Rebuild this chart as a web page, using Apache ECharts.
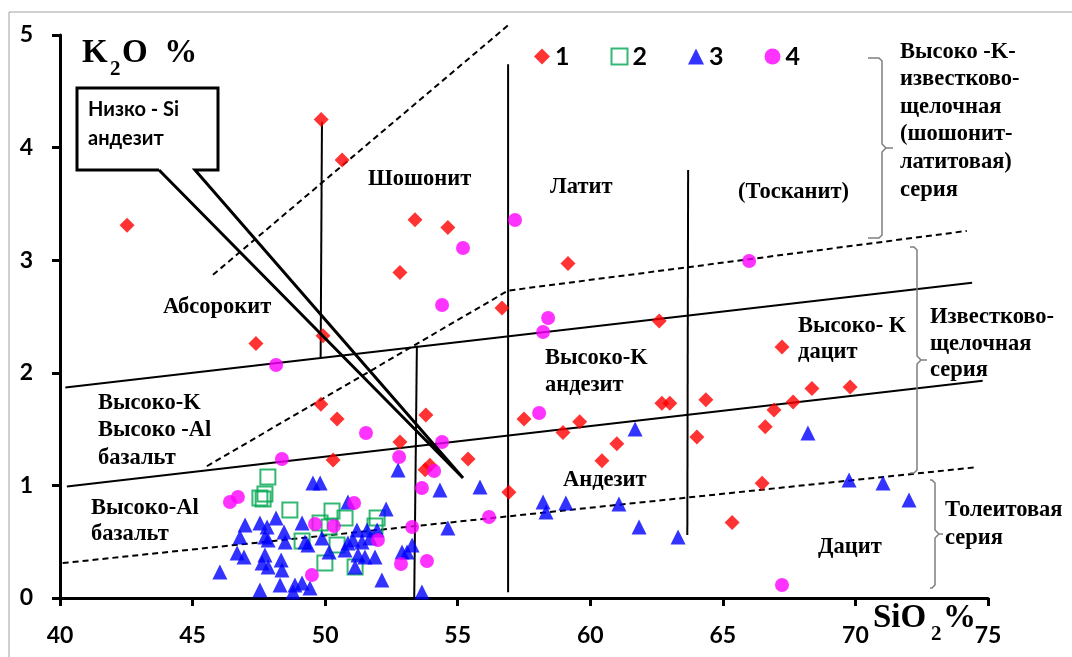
<!DOCTYPE html>
<html>
<head>
<meta charset="utf-8">
<script src="https://cdn.jsdelivr.net/npm/echarts@6/dist/echarts.min.js"></script>
<style>
  html, body { margin: 0; padding: 0; background: #fff; }
  #chart { width: 1072px; height: 657px; }
</style>
</head>
<body>
<div id="chart"></div>
<script>
// группа 1 - красные ромбы (SiO2, K2O)
const group1 = [
  [42.53, 3.31], [49.85, 4.25], [50.64, 3.89], [53.39, 3.36], [54.63, 3.29],
  [52.82, 2.89], [56.67, 2.575], [47.39, 2.26], [49.92, 2.33], [49.84, 1.72],
  [50.45, 1.59], [53.8, 1.625], [52.82, 1.385], [50.3, 1.225], [55.39, 1.235],
  [53.77, 1.14], [53.95, 1.18], [56.93, 0.94], [60.44, 1.22], [61.0, 1.37],
  [59.16, 2.97], [62.6, 2.46], [62.7, 1.73], [63.0, 1.73], [64.36, 1.76],
  [57.5, 1.59], [59.6, 1.565], [58.97, 1.47], [67.23, 2.23], [68.36, 1.86],
  [69.8, 1.875], [67.65, 1.74], [66.93, 1.67], [66.6, 1.52], [66.48, 1.02],
  [65.35, 0.67], [64.02, 1.43]
]
// группа 2 - зелёные квадраты
const group2 = [
  [47.84, 1.075], [47.54, 0.888], [47.73, 0.924], [47.66, 0.879], [48.67, 0.782],
  [50.26, 0.773], [50.75, 0.71], [51.96, 0.71], [51.88, 0.639], [50.15, 0.631],
  [50.45, 0.471], [49.13, 0.506], [49.99, 0.311], [51.13, 0.275], [49.81, 0.666]
]
// группа 3 - синие треугольники
const group3 = [
  [46.98, 0.648], [47.54, 0.666], [47.81, 0.631], [48.15, 0.71], [48.45, 0.586],
  [49.13, 0.666], [46.79, 0.542], [47.73, 0.542], [47.85, 0.515], [48.49, 0.497],
  [49.24, 0.497], [46.68, 0.4], [46.94, 0.364], [47.73, 0.382], [47.62, 0.311],
  [47.85, 0.275], [48.34, 0.337], [48.37, 0.249], [46.03, 0.231], [47.54, 0.071],
  [48.3, 0.115], [48.86, 0.115], [49.13, 0.133], [48.79, 0.053], [49.43, 0.089],
  [49.54, 1.021], [49.81, 1.021], [52.75, 1.137], [50.86, 0.853], [52.3, 0.79],
  [49.35, 0.471], [49.88, 0.533], [50.15, 0.409], [51.2, 0.604], [51.58, 0.604],
  [51.96, 0.604], [51.05, 0.515], [51.39, 0.497], [51.69, 0.533], [50.75, 0.426],
  [51.24, 0.382], [51.5, 0.364], [51.88, 0.364], [51.13, 0.275], [52.9, 0.409],
  [53.28, 0.471], [53.09, 0.409], [52.14, 0.16], [53.65, 0.053], [54.33, 0.959],
  [55.84, 0.986], [54.63, 0.622], [58.22, 0.853], [58.33, 0.764], [59.08, 0.844],
  [61.08, 0.835], [61.84, 0.631], [63.31, 0.542], [61.69, 1.501], [69.76, 1.048],
  [71.04, 1.021], [72.02, 0.87], [68.21, 1.465], [50.86, 0.488]
]
// группа 4 - пурпурные кружки
const group4 = [
  [57.16, 3.357], [55.2, 3.108], [54.41, 2.602], [48.15, 2.069], [51.54, 1.465],
  [54.41, 1.385], [48.37, 1.234], [52.79, 1.252], [54.11, 1.128], [53.65, 0.977],
  [58.41, 2.487], [58.22, 2.362], [58.07, 1.643], [65.99, 2.993], [67.23, 0.115],
  [56.18, 0.719], [53.28, 0.631], [51.99, 0.515], [53.84, 0.329], [52.86, 0.302],
  [51.09, 0.844], [49.62, 0.657], [50.33, 0.639], [49.5, 0.204], [46.41, 0.853],
  [46.71, 0.897]
]

// границы полей диаграммы
const solidLines = [
  [[40.2, 1.87], [74.4, 2.8]],
  [[40.26, 0.99], [74.8, 1.93]],
  [[49.88, 4.23], [49.83, 2.14]],
  [[53.46, 2.24], [53.36, 0]],
  [[56.9, 4.74], [56.9, 0.05]],
  [[63.69, 3.8], [63.66, 0.56]]
]
const dashedLines = [
  [[40.1, 0.31], [74.5, 1.16]],
  [[45.54, 1.17], [56.9, 2.73], [74.2, 3.26]],
  [[45.77, 2.87], [56.97, 5.1]]
]
const calloutTip = [55.2, 1.066]

const xTicks = { min: 40, max: 75, step: 5 }
const yTicks = { min: 0, max: 5, step: 1 }

const chart = echarts.init(document.getElementById('chart'))

const serif = '"Liberation Serif", "Times New Roman", serif'
const sans = 'Lato, "Liberation Sans", sans-serif'

const boundarySeries = []
solidLines.forEach((pts, i) => {
  boundarySeries.push({
    name: 'solid' + i, type: 'line', data: pts, symbol: 'none', silent: true, clip: false,
    lineStyle: { color: '#000', width: 2 }, z: 1
  })
})
dashedLines.forEach((pts, i) => {
  boundarySeries.push({
    name: 'dash' + i, type: 'line', data: pts, symbol: 'none', silent: true, clip: false,
    lineStyle: { color: '#000', width: 2, type: [6, 4] }, z: 1
  })
})

const option = {
  animation: false,
  backgroundColor: '#fff',
  grid: { left: 60, right: 84, top: 35, bottom: 59 },
  legend: {
    data: ['1', '2', '3', '4'],
    left: 529, top: 39,
    itemWidth: 16, itemHeight: 16, itemGap: 41,
    textStyle: { fontFamily: sans, fontWeight: 'bold', fontSize: 25, color: '#000' }
  },
  xAxis: {
    type: 'value', min: xTicks.min, max: xTicks.max, interval: xTicks.step,
    splitLine: { show: false },
    axisLine: { lineStyle: { color: '#000', width: 3 } },
    axisTick: { show: true, length: 8, lineStyle: { color: '#000', width: 3 } },
    axisLabel: { margin: 26, fontFamily: sans, fontWeight: 'bold', fontSize: 23, color: '#000' }
  },
  yAxis: {
    type: 'value', min: yTicks.min, max: yTicks.max, interval: yTicks.step,
    splitLine: { show: false },
    axisLine: { show: true, lineStyle: { color: '#000', width: 3 } },
    axisTick: { show: true, length: 8, lineStyle: { color: '#000', width: 3 } },
    axisLabel: { margin: 27, fontFamily: sans, fontWeight: 'bold', fontSize: 23, color: '#000' }
  },
  series: [
    ...boundarySeries,
    { name: '1', type: 'scatter', data: group1, symbol: 'diamond', symbolSize: 15,
      itemStyle: { color: '#ff0000' }, z: 5 },
    { name: '2', type: 'scatter', data: group2, symbol: 'rect', symbolSize: 15,
      itemStyle: { color: 'rgba(255,255,255,0)', borderColor: '#00a650', borderWidth: 2 }, z: 4 },
    { name: '3', type: 'scatter', data: group3, symbol: 'triangle', symbolSize: 15,
      itemStyle: { color: '#0000ff' }, z: 5 },
    { name: '4', type: 'scatter', data: group4, symbol: 'circle', symbolSize: 14,
      itemStyle: { color: '#ff00ff' }, z: 5 }
  ]
}
chart.setOption(option)

// подписи полей и серий
const txt = (x, y, text, size, lh, font) => ({
  type: 'text', left: x, top: y, z: 10, silent: true,
  style: { text: text, font: 'bold ' + size + 'px ' + (font || serif), fill: '#000', lineHeight: lh || size * 1.2 }
})
const brace = (x, y1, y2, w, tip) => {
  const ym = (y1 + y2) / 2
  return {
    type: 'polyline', z: 10, silent: true,
    shape: { points: [[x - w, y1], [x - 3, y1], [x, y1 + 3], [x, ym - 4], [x + 4, ym], [x + tip, ym],
      [x + 4, ym], [x, ym + 4], [x, y2 - 3], [x - 3, y2], [x - w, y2]] },
    style: { stroke: '#7f7f7f', lineWidth: 1.5, fill: null }
  }
}

const tip = chart.convertToPixel({ gridIndex: 0 }, calloutTip)

chart.setOption({
  graphic: [
    { type: 'polyline', silent: true, shape: { points: [[9, 700], [9, 12], [1100, 12]] },
      style: { stroke: '#a0a0a0', lineWidth: 1, fill: null } },
    // K2O %
    txt(82, 35, 'K', 33, 36),
    txt(110, 58, '2', 21, 24),
    txt(122, 35, 'O  %', 33, 36),
    // SiO2 %
    txt(873, 600, 'SiO', 33, 36),
    txt(931, 623, '2', 21, 24),
    txt(943, 600, '%', 33, 36),
    // поля
    txt(368, 166, 'Шошонит', 22.5, 26),
    txt(550, 174, 'Латит', 22.5, 26),
    txt(738, 179, '(Тосканит)', 22.5, 26),
    txt(163, 294, 'Абсорокит', 22.5, 26),
    txt(98, 389, 'Высоко-K\nВысоко -Al\nбазальт', 22.5, 27.5),
    txt(91, 495, 'Высоко-Al\nбазальт', 22.5, 26),
    txt(545, 345, 'Высоко-K\nандезит', 22.5, 27),
    txt(798, 313, 'Высоко- K\nдацит', 22.5, 26),
    txt(563, 467, 'Андезит', 22.5, 26),
    txt(818, 534, 'Дацит', 22.5, 26),
    txt(900, 38, 'Высоко -K-\nизвестково-\nщелочная\n(шошонит-\nлатитовая)\nсерия', 22.5, 27.6),
    txt(930, 304, 'Известково-\nщелочная\nсерия', 22.5, 26.5),
    txt(945, 496, 'Толеитовая\nсерия', 22.5, 28),
    brace(882, 58, 238, 14, 11),
    brace(917, 247, 473, 7, 10),
    brace(935, 480, 588, 5, 8),
    // выноска "Низко - Si андезит"
    { type: 'rect', z: 11, silent: true, shape: { x: 77, y: 88, width: 141, height: 82 },
      style: { fill: '#fff', stroke: null } },
    { type: 'polyline', z: 12, silent: true,
      shape: { points: [[159, 170], [77, 170], [77, 88], [218, 88], [218, 170], [195, 170], tip, [159, 170]] },
      style: { stroke: '#000', lineWidth: 3, fill: null, lineJoin: 'miter' } },
    Object.assign(txt(88, 95, 'Низко - Si\nандезит', 20, 29, sans), { z: 13 })
  ]
})
</script>
</body>
</html>
